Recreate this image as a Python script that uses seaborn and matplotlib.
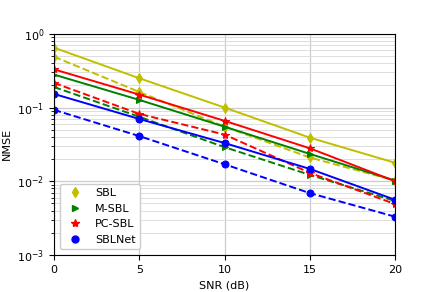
import numpy as np
import pandas as pd
import matplotlib
matplotlib.use("Agg")
import matplotlib.pyplot as plt
import seaborn as sns
from matplotlib.lines import Line2D

snr = [0, 5, 10, 15, 20]

# solid / dashed curve of each method
sbl_solid = [0.65, 0.25, 0.10, 0.039, 0.0178]
sbl_dash = [0.49, 0.163, 0.055, 0.021, 0.0102]
msbl_solid = [0.28, 0.127, 0.055, 0.0235, 0.0102]
msbl_dash = [0.19, 0.075, 0.029, 0.0122, 0.0054]
pcsbl_solid = [0.33, 0.15, 0.066, 0.028, 0.0100]
pcsbl_dash = [0.216, 0.082, 0.043, 0.013, 0.0049]
sblnet_solid = [0.153, 0.070, 0.033, 0.0147, 0.0056]
sblnet_dash = [0.093, 0.041, 0.017, 0.0069, 0.0033]

methods = ["SBL", "M-SBL", "PC-SBL", "SBLNet"]
colors = ["y", "g", "r", "b"]
markers = ["d", ">", "*", "o"]
solid = [sbl_solid, msbl_solid, pcsbl_solid, sblnet_solid]
dashed = [sbl_dash, msbl_dash, pcsbl_dash, sblnet_dash]

plt.rcParams["font.size"] = 8
fig, ax = plt.subplots(figsize=(4.39, 2.92), dpi=100)
fig.subplots_adjust(left=0.123, right=0.9, top=0.884, bottom=0.127)

for m, c, mk, s, d in zip(methods, colors, markers, solid, dashed):
    ms = 6 if mk == "*" else 5
    sns.lineplot(x=snr, y=s, ax=ax, color=c, marker=mk, markersize=ms,
                 markeredgecolor=c, linestyle="-", linewidth=1.4)
    sns.lineplot(x=snr, y=d, ax=ax, color=c, marker=mk, markersize=ms,
                 markeredgecolor=c, linestyle="--", linewidth=1.4)

ax.set_yscale("log")
ax.set_xlim(0, 20)
ax.set_ylim(1e-3, 1)
ax.set_xticks([0, 5, 10, 15, 20])
ax.grid(True, which="major", color="#cccccc", linewidth=0.9)
ax.grid(True, which="minor", axis="y", color="#dddddd", linewidth=0.7)
ax.set_axisbelow(True)
ax.set_xlabel("SNR (dB)")
ax.set_ylabel("NMSE")

handles = [Line2D([], [], color=c, marker=mk, linestyle="none",
                  markersize=6 if mk == "*" else 5)
           for c, mk in zip(colors, markers)]
ax.legend(handles, methods, loc="lower left", fontsize=8, framealpha=1)

fig.savefig("out.png", dpi=100)
